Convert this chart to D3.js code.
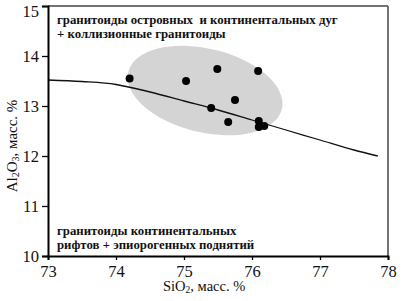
<!DOCTYPE html>
<html>
<head>
<meta charset="utf-8">
<script src="https://cdn.jsdelivr.net/npm/d3@7"></script>
<style>
  body { margin: 0; background: #fff; }
  svg { display: block; }
  text { font-family: "Liberation Serif", "DejaVu Serif", serif; }
</style>
</head>
<body>
<div id="okvir"></div>
<script>
// точки (SiO2, Al2O3)
const sio2 = [74.2, 75.03, 75.49, 76.09, 75.75, 75.4, 75.65, 76.1, 76.1, 76.18];
const al2o3 = [13.55, 13.5, 13.74, 13.7, 13.12, 12.96, 12.68, 12.7, 12.58, 12.6];

// разделительная линия
const lineX = [73, 73.5, 74, 74.25, 74.5, 75, 75.5, 76, 76.5, 77, 77.5, 77.85];
const lineY = [13.52, 13.49, 13.43, 13.36, 13.28, 13.1, 12.92, 12.72, 12.52, 12.32, 12.12, 12.0];

// поле (эллипс) - центр в единицах данных
const ellipseCentre = [75.31, 13.31];

const xTicks = [73, 74, 75, 76, 77, 78];
const yTicks = [10, 11, 12, 13, 14, 15];

const topLabel = ["гранитоиды островных  и континентальных дуг", "+ коллизионные гранитоиды"];
const bottomLabel = ["гранитоиды континентальных", "рифтов + эпиорогенных поднятий"];

const dim = {
  width: 402,
  height: 301,
  margin: { top: 6, right: 14, bottom: 45, left: 48 }
};
dim.w = dim.width - dim.margin.left - dim.margin.right;
dim.h = dim.height - dim.margin.top - dim.margin.bottom;

const svg = d3.select("#okvir").append("svg")
  .attr("width", dim.width)
  .attr("height", dim.height);

const g = svg.append("g")
  .attr("transform", `translate(${dim.margin.left},${dim.margin.top})`);

const x = d3.scaleLinear().domain([73, 78]).range([0, dim.w]);
const y = d3.scaleLinear().domain([10, 15]).range([dim.h, 0]);

// эллипс
const ecx = x(ellipseCentre[0]), ecy = y(ellipseCentre[1]);
g.append("ellipse")
  .attr("cx", ecx)
  .attr("cy", ecy)
  .attr("rx", 79)
  .attr("ry", 42)
  .attr("transform", `rotate(13.6, ${ecx}, ${ecy})`)
  .attr("fill", "#d4d4d4");

// линия
const linePts = lineX.map((d, i) => [d, lineY[i]]);
g.append("path")
  .datum(linePts)
  .attr("fill", "none")
  .attr("stroke", "#111")
  .attr("stroke-width", 1.3)
  .attr("d", d3.line().x(d => x(d[0])).y(d => y(d[1])).curve(d3.curveMonotoneX));

// точки
const pts = sio2.map((d, i) => ({ s: d, a: al2o3[i] }));
g.selectAll("circle.pt")
  .data(pts)
  .join("circle")
  .attr("class", "pt")
  .attr("cx", d => x(d.s))
  .attr("cy", d => y(d.a))
  .attr("r", 4)
  .attr("fill", "#000");

// рамка сверху и справа
g.append("line").attr("x1", 0).attr("x2", dim.w).attr("y1", 0).attr("y2", 0)
  .attr("stroke", "#444").attr("stroke-width", 1.5);
g.append("line").attr("x1", dim.w).attr("x2", dim.w).attr("y1", 0).attr("y2", dim.h)
  .attr("stroke", "#444").attr("stroke-width", 1.5);

// оси
const xAxis = g.append("g")
  .attr("transform", `translate(0,${dim.h})`)
  .call(d3.axisBottom(x).tickValues(xTicks).tickSize(4).tickPadding(5).tickFormat(d3.format("d")));
const yAxis = g.append("g")
  .call(d3.axisLeft(y).tickValues(yTicks).tickSize(6).tickPadding(3).tickFormat(d3.format("d")));

[xAxis, yAxis].forEach(a => {
  a.select(".domain").attr("stroke", "#000").attr("stroke-width", 2);
  a.selectAll(".tick line").attr("stroke", "#000").attr("stroke-width", 1.3);
  a.selectAll(".tick text")
    .attr("fill", "#111")
    .style("font-family", "'Liberation Serif', serif")
    .style("font-size", "16.5px");
});
yAxis.selectAll(".tick text").attr("dy", d => d === 15 ? "0.62em" : "0.36em");

// подписи полей
const lbl = g.append("text")
  .attr("xml:space", "preserve")
  .style("font-size", "12.8px")
  .style("font-weight", "bold")
  .attr("fill", "#111");
topLabel.forEach((t, i) => {
  lbl.append("tspan").attr("x", 9).attr("y", 18 + i * 13.5).text(t);
});

const lbl2 = g.append("text")
  .style("font-size", "12.8px")
  .style("font-weight", "bold")
  .attr("fill", "#111");
bottomLabel.forEach((t, i) => {
  lbl2.append("tspan").attr("x", 9).attr("y", 229 + i * 14).text(t);
});

// подписи осей
const xl = svg.append("text")
  .attr("x", 163)
  .attr("y", 291)
  .style("font-size", "14.5px")
  .attr("fill", "#111");
xl.append("tspan").text("SiO");
xl.append("tspan").text("2").style("font-size", "9.5px").attr("dy", 2);
xl.append("tspan").text(", масс. %").attr("dy", -2);

const yl = svg.append("text")
  .attr("transform", "translate(17,146) rotate(-90)")
  .attr("text-anchor", "middle")
  .style("font-size", "15px")
  .attr("fill", "#111");
yl.append("tspan").text("Al");
yl.append("tspan").text("2").style("font-size", "10px").attr("dy", 2);
yl.append("tspan").text("O").attr("dy", -2);
yl.append("tspan").text("3").style("font-size", "10px").attr("dy", 2);
yl.append("tspan").text(", масс. %").attr("dy", -2);
</script>
</body>
</html>
